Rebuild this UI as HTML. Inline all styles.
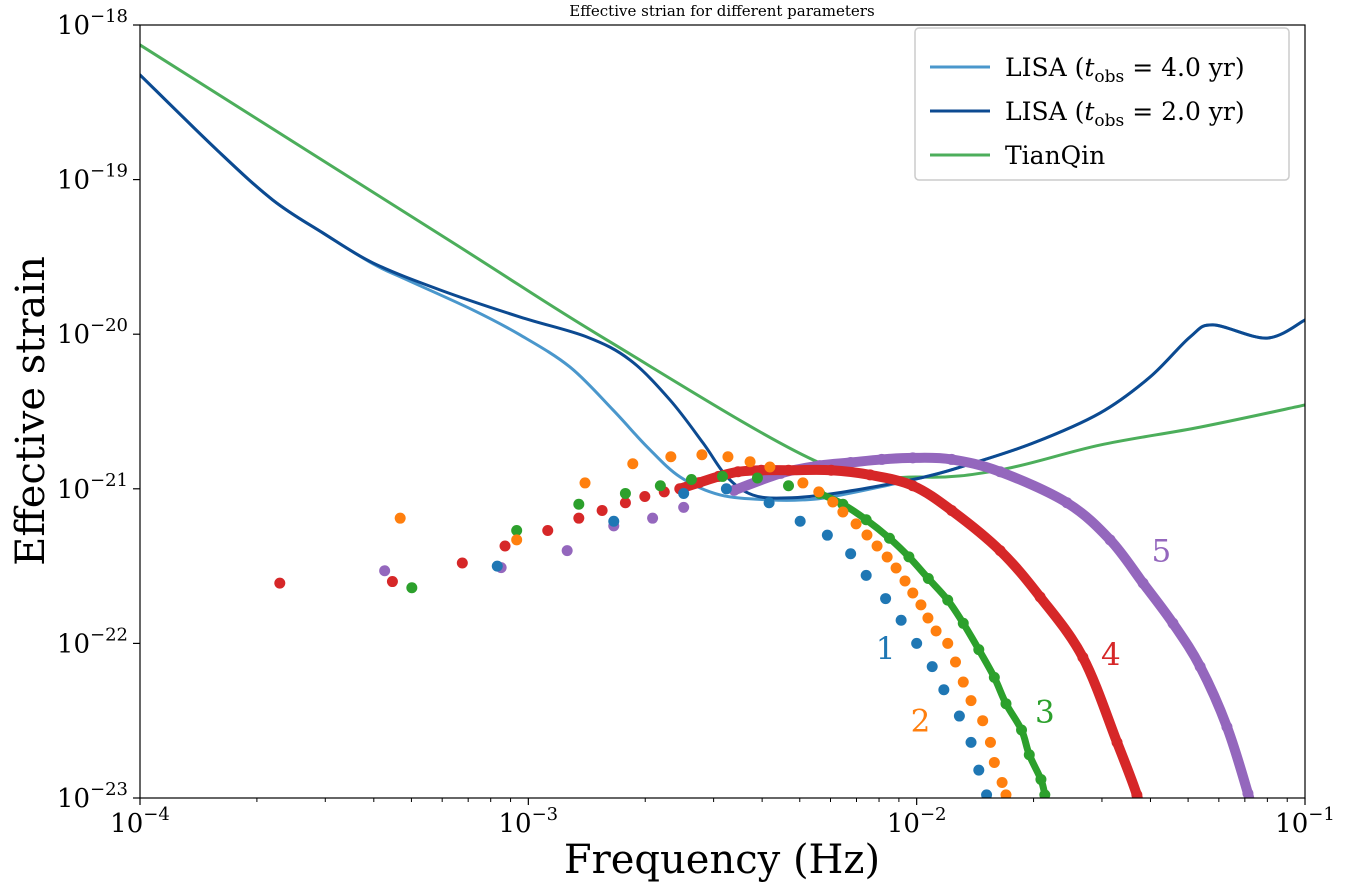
<!DOCTYPE html>
<html><head><meta charset="utf-8">
<style>
html,body{margin:0;padding:0;background:#fff;}
svg text{font-family:"DejaVu Serif","Liberation Serif",serif;}
</style></head>
<body>
<svg id="chart" width="1350" height="885" viewBox="0 0 1350 885" xmlns="http://www.w3.org/2000/svg">
<text x="722" y="16" font-size="15" text-anchor="middle">Effective strian for different parameters</text>
<g id="plot"></g>
<g id="axes"></g>
<text x="722" y="873" font-size="40" text-anchor="middle">Frequency (Hz)</text>
<text transform="translate(44,411) rotate(-90)" font-size="40" text-anchor="middle">Effective strain</text>
<g>
<rect x="915" y="28" width="374" height="152" rx="4" fill="#fff" fill-opacity="0.8" stroke="#ccc" stroke-width="1.5"/>
<line x1="930" y1="67" x2="990" y2="67" stroke="#4a97cc" stroke-width="3"/>
<text x="1005" y="76" font-size="25">LISA (<tspan font-style="italic">t</tspan><tspan font-size="17" dy="6">obs</tspan><tspan dy="-6"> = 4.0 yr)</tspan></text>
<line x1="930" y1="111" x2="990" y2="111" stroke="#0c4a91" stroke-width="3"/>
<text x="1005" y="120" font-size="25">LISA (<tspan font-style="italic">t</tspan><tspan font-size="17" dy="6">obs</tspan><tspan dy="-6"> = 2.0 yr)</tspan></text>
<line x1="930" y1="155" x2="990" y2="155" stroke="#4cae5b" stroke-width="3"/>
<text x="1005" y="164" font-size="25">TianQin</text>
</g>
</svg>
<script>
// data (log10 values)
const lisa4LogF=[-4,-3.802,-3.658,-3.529,-3.400,-3.312,-3.143,-3.021,-2.893,-2.782,-2.694,-2.609,-2.506,-2.378,-2.293,-2.205,-1.991,-1.870,-1.700,-1.528,-1.399,-1.296,-1.237,-1.098,-1.0];
const lisa4LogH=[-18.323,-18.808,-19.132,-19.345,-19.545,-19.649,-19.843,-20.005,-20.212,-20.490,-20.729,-20.924,-21.040,-21.072,-21.072,-21.045,-20.930,-20.846,-20.704,-20.510,-20.277,-20.018,-19.940,-20.025,-19.908];
const lisa2LogF=[-4,-3.802,-3.658,-3.529,-3.400,-3.227,-3.021,-2.849,-2.738,-2.635,-2.550,-2.488,-2.422,-2.334,-2.205,-1.991,-1.870,-1.700,-1.528,-1.399,-1.296,-1.237,-1.098,-1.0];
const lisa2LogH=[-18.323,-18.808,-19.132,-19.345,-19.539,-19.714,-19.889,-20.018,-20.167,-20.426,-20.704,-20.924,-21.040,-21.059,-21.027,-20.930,-20.846,-20.704,-20.510,-20.277,-20.018,-19.940,-20.025,-19.908];
const tqLogF=[-4,-3.2,-2.8,-2.249,-1.991,-1.785,-1.528,-1.270,-1.0];
const tqLogH=[-18.129,-19.399,-20.034,-20.833,-20.924,-20.878,-20.717,-20.601,-20.458];
const s1LogF=[-3.08,-2.78,-2.60,-2.49,-2.38,-2.30,-2.23,-2.17,-2.13,-2.08,-2.04,-2.00,-1.96,-1.93,-1.89,-1.86,-1.84,-1.82];
const s1LogH=[-21.50,-21.21,-21.03,-21.00,-21.09,-21.21,-21.30,-21.42,-21.56,-21.71,-21.85,-22.00,-22.15,-22.30,-22.47,-22.64,-22.82,-22.98];
const s2LogF=[-3.33,-3.03,-2.854,-2.731,-2.633,-2.553,-2.486,-2.429,-2.378,-2.293,-2.252,-2.216,-2.190,-2.156,-2.128,-2.102,-2.076,-2.053,-2.030,-2.010,-1.989,-1.971,-1.950,-1.92,-1.90,-1.88,-1.86,-1.83,-1.81,-1.80,-1.78,-1.77];
const s2LogH=[-21.19,-21.33,-20.962,-20.838,-20.793,-20.780,-20.793,-20.825,-20.859,-20.962,-21.020,-21.085,-21.150,-21.227,-21.299,-21.370,-21.441,-21.512,-21.596,-21.674,-21.751,-21.836,-21.920,-22.00,-22.12,-22.25,-22.37,-22.50,-22.64,-22.77,-22.90,-22.98];
const s3LogF=[-3.30,-3.03,-2.87,-2.75,-2.66,-2.58,-2.50,-2.41,-2.33,-2.25,-2.19,-2.13,-2.07,-2.02,-1.97,-1.92,-1.88,-1.84,-1.80,-1.77,-1.73,-1.71,-1.68,-1.67];
const s3LogH=[-21.64,-21.27,-21.10,-21.03,-20.98,-20.94,-20.92,-20.93,-20.98,-21.03,-21.10,-21.20,-21.32,-21.44,-21.58,-21.72,-21.87,-22.04,-22.22,-22.39,-22.56,-22.72,-22.88,-22.98];
const s4LogF=[-3.64,-3.35,-3.17,-3.06,-2.95,-2.87,-2.81,-2.75,-2.70,-2.65,-2.61,-2.56,-2.51,-2.46,-2.40,-2.33,-2.22,-2.12,-2.01,-1.91,-1.785,-1.682,-1.572,-1.484,-1.433,-1.42];
const s4LogH=[-21.61,-21.60,-21.48,-21.37,-21.27,-21.19,-21.14,-21.09,-21.05,-21.02,-21.00,-20.96,-20.92,-20.89,-20.88,-20.88,-20.88,-20.91,-20.98,-21.14,-21.40,-21.70,-22.09,-22.64,-22.98,-23.15];
const s5LogF=[-3.37,-3.07,-2.90,-2.78,-2.68,-2.60,-2.47,-2.35,-2.25,-2.17,-2.09,-2.01,-1.91,-1.785,-1.613,-1.502,-1.417,-1.340,-1.270,-1.201,-1.147,-1.13];
const s5LogH=[-21.53,-21.51,-21.40,-21.24,-21.19,-21.12,-21.01,-20.90,-20.85,-20.83,-20.81,-20.80,-20.81,-20.89,-21.09,-21.33,-21.61,-21.87,-22.15,-22.54,-22.97,-23.15];
const xTickExps=[-4,-3,-2,-1];
const yTickExps=[-18,-19,-20,-21,-22,-23];

const L=140,R=1305,T=25,B=798;
const xs=v=>L+(v+4)/3*(R-L);
const ys=v=>T+(-18-v)/5*(B-T);
const NS="http://www.w3.org/2000/svg";
const plot=document.getElementById('plot'),axes=document.getElementById('axes');
function mk(tag,attrs,parent){const e=document.createElementNS(NS,tag);for(const k in attrs)e.setAttribute(k,attrs[k]);parent.appendChild(e);return e;}
const defs=mk('defs',{},plot);const cp=mk('clipPath',{id:'clip'},defs);mk('rect',{x:L,y:T,width:R-L,height:B-T},cp);
const g=mk('g',{'clip-path':'url(#clip)'},plot);
function smooth(fx,fy){const p=fx.map((f,i)=>[xs(f),ys(fy[i])]);let d='M'+p[0][0]+','+p[0][1];
for(let i=0;i<p.length-1;i++){const p0=p[Math.max(0,i-1)],p1=p[i],p2=p[i+1],p3=p[Math.min(p.length-1,i+2)];
const c1=[p1[0]+(p2[0]-p0[0])/6,p1[1]+(p2[1]-p0[1])/6],c2=[p2[0]-(p3[0]-p1[0])/6,p2[1]-(p3[1]-p1[1])/6];
d+=' C'+c1[0]+','+c1[1]+' '+c2[0]+','+c2[1]+' '+p2[0]+','+p2[1];}return d;}
function curve(fx,fy,col,w,name){const e=mk('path',{d:smooth(fx,fy),fill:'none',stroke:col,'stroke-width':w,'stroke-linecap':'round'},g);

}
function dots(fx,fy,col,name,denseFrom,w){
if(denseFrom!=null){const e=mk('path',{d:smooth(fx.slice(denseFrom),fy.slice(denseFrom)),fill:'none',stroke:col,'stroke-width':w},g);

}
fx.forEach((f,i)=>{const c=mk('circle',{cx:xs(f),cy:ys(fy[i]),r:5.5,fill:col},g);

});}
curve(tqLogF,tqLogH,'#4cae5b',3,'tianqin-curve');
curve(lisa4LogF,lisa4LogH,'#4a97cc',3,'lisa-4yr-curve');
curve(lisa2LogF,lisa2LogH,'#0c4a91',3,'lisa-2yr-curve');
dots(s5LogF,s5LogH,'#9467bd','series-5',6,10);
dots(s4LogF,s4LogH,'#d62728','series-4',10,10);
dots(s3LogF,s3LogH,'#2ca02c','series-3',9,7);
dots(s2LogF,s2LogH,'#ff7f0e','series-2');
dots(s1LogF,s1LogH,'#1f77b4','series-1');
[['1',-2.08,-22.03,'#1f77b4'],['2',-1.99,-22.5,'#ff7f0e'],['3',-1.67,-22.44,'#2ca02c'],['4',-1.50,-22.07,'#d62728'],['5',-1.37,-21.40,'#9467bd']].forEach(a=>{
const t=mk('text',{x:xs(a[1]),y:ys(a[2])+11,'font-size':31,fill:a[3],'text-anchor':'middle'},plot);t.textContent=a[0];

});
const fr=mk('rect',{x:L,y:T,width:R-L,height:B-T,fill:'none',stroke:'#000','stroke-width':1.2},axes);


xTickExps.forEach(e=>{const x=xs(e);mk('line',{x1:x,y1:B,x2:x,y2:B+7,stroke:'#000','stroke-width':1.2},axes);
const t=mk('text',{x:x,y:B+34,'font-size':26,'text-anchor':'middle'},axes);
t.innerHTML='10<tspan font-size="18" dy="-12">−'+(-e)+'</tspan>';


if(e<-1)for(let k=2;k<10;k++){const xm=xs(e+Math.log10(k));mk('line',{x1:xm,y1:B,x2:xm,y2:B+4,stroke:'#000','stroke-width':1},axes);}});
yTickExps.forEach(e=>{const y=ys(e);mk('line',{x1:L-7,y1:y,x2:L,y2:y,stroke:'#000','stroke-width':1.2},axes);
const t=mk('text',{x:L-12,y:y+9,'font-size':26,'text-anchor':'end'},axes);
t.innerHTML='10<tspan font-size="18" dy="-12">−'+(-e)+'</tspan>';


if(e>-18)for(let k=2;k<10;k++){const ym=ys(e+Math.log10(k));mk('line',{x1:L-4,y1:ym,x2:L,y2:ym,stroke:'#000','stroke-width':1},axes);}});
</script>
</body></html>
